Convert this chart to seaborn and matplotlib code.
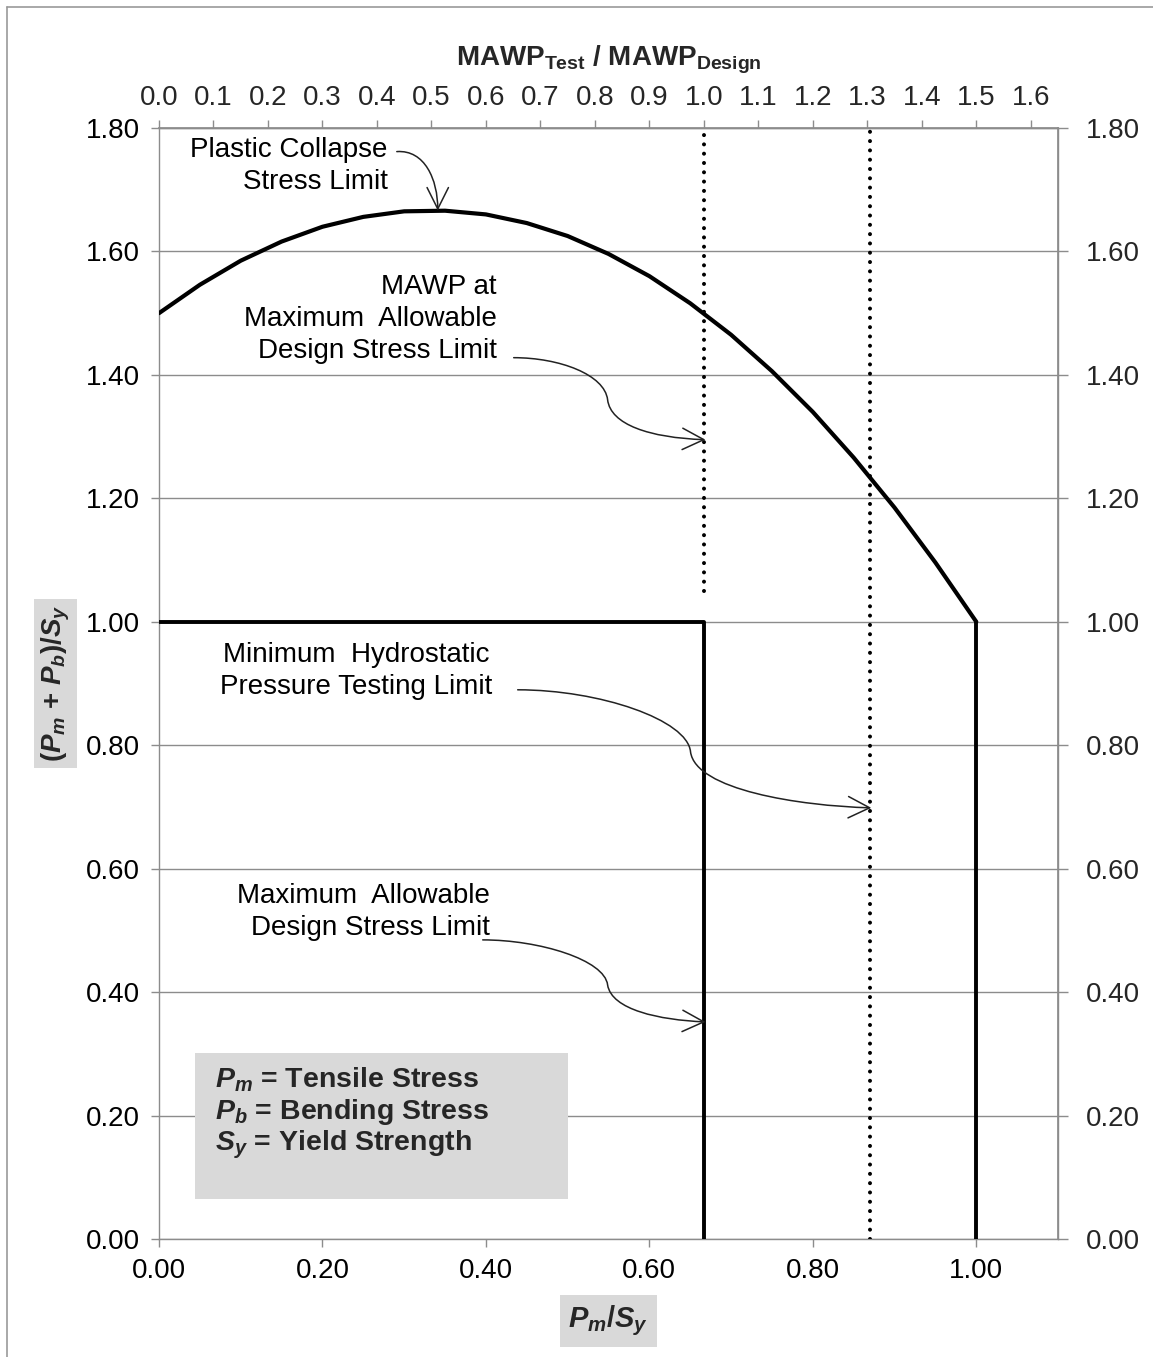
import numpy as np
import pandas as pd
import seaborn as sns
import matplotlib
matplotlib.use("Agg")
import matplotlib.pyplot as plt
from matplotlib.path import Path
from matplotlib.patches import FancyArrowPatch, Rectangle
from matplotlib.lines import Line2D

# ---------------- data ----------------
collapse_x = [0.0, 0.05, 0.1, 0.15, 0.2, 0.25, 0.3, 0.35, 0.4, 0.45, 0.5,
              0.55, 0.6, 0.65, 0.7, 0.75, 0.8, 0.85, 0.9, 0.95, 1.0]
collapse_y = [1.500, 1.546, 1.585, 1.616, 1.640, 1.656, 1.665, 1.666, 1.660, 1.646, 1.625,
              1.596, 1.560, 1.516, 1.465, 1.406, 1.340, 1.266, 1.185, 1.096, 1.000]
design_x = [0.0, 0.667, 0.667]
design_y = [1.0, 1.0, 0.0]
yield_x = [1.0, 1.0]
yield_y = [1.0, 0.0]
mawp_design_x = [0.667, 0.667]
mawp_design_y = [1.05, 1.80]
hydro_x = [0.87, 0.87]
hydro_y = [0.0, 1.80]

y_ticks = [0.0, 0.2, 0.4, 0.6, 0.8, 1.0, 1.2, 1.4, 1.6, 1.8]
x_ticks = [0.0, 0.2, 0.4, 0.6, 0.8, 1.0]
top_ticks = [0.0, 0.1, 0.2, 0.3, 0.4, 0.5, 0.6, 0.7, 0.8, 0.9, 1.0, 1.1, 1.2, 1.3, 1.4, 1.5, 1.6]
ratio_test_design = 1.5

# ---------------- style ----------------
sns.set_theme(style="white")
plt.rcParams["font.family"] = ["Liberation Sans", "DejaVu Sans"]
plt.rcParams["mathtext.fontset"] = "custom"
plt.rcParams["mathtext.rm"] = "Liberation Sans:bold"
plt.rcParams["mathtext.it"] = "Liberation Sans:italic:bold"
plt.rcParams["mathtext.bf"] = "Liberation Sans:bold"

W, H = 1153, 1357
fig = plt.figure(figsize=(W / 100, H / 100), dpi=100)
L, R, T, B = 159, 1058, 128, 1239
ax = fig.add_axes([L / W, 1 - B / H, (R - L) / W, (B - T) / H])

GRAY = "#8c8c8c"
FS = 20

# curves
sns.lineplot(x=collapse_x, y=collapse_y, sort=False, estimator=None, color="black", lw=3.0, ax=ax, zorder=5)
sns.lineplot(x=design_x, y=design_y, sort=False, estimator=None, color="black", lw=2.8, ax=ax, zorder=5)
sns.lineplot(x=yield_x, y=yield_y, sort=False, estimator=None, color="black", lw=2.8, ax=ax, zorder=5)
for xs, ys in [(mawp_design_x, mawp_design_y), (hydro_x, hydro_y)]:
    sns.lineplot(x=xs, y=ys, sort=False, estimator=None, color="black", ax=ax, zorder=4)
    line = ax.lines[-1]
    line.set_linewidth(2.9)
    line.set_dashes((0.01, 2.3))
    line.set_dash_capstyle("round")

ax.set_xlim(0, 1.1)
ax.set_ylim(0, 1.8)
ax.set_xticks(x_ticks)
ax.set_xticklabels([f"{v:.2f}" for v in x_ticks])
ax.set_yticks(y_ticks)
ax.set_yticklabels([f"{v:.2f}" for v in y_ticks])
ax.yaxis.grid(True, color=GRAY, lw=1.0, zorder=0)
ax.xaxis.grid(False)
ax.set_axisbelow(True)
for s in ax.spines.values():
    s.set_color(GRAY)
    s.set_linewidth(1.0)
    s.set_visible(True)
ax.tick_params(axis="both", which="major", direction="out", length=6, width=1,
               color=GRAY, labelsize=FS, labelcolor="black")
ax.tick_params(axis="x", pad=8, bottom=True)
ax.tick_params(axis="y", pad=8, left=True)

# right axis
ay2 = ax.secondary_yaxis("right")
ay2.set_yticks(y_ticks)
ay2.set_yticklabels([f"{v:.2f}" for v in y_ticks])
ay2.tick_params(direction="out", length=7, width=1, color=GRAY, labelsize=FS, pad=13)
ay2.spines["right"].set_color(GRAY)

# top axis
ax2 = ax.secondary_xaxis("top", functions=(lambda x: x * ratio_test_design,
                                           lambda x: x / ratio_test_design))
ax2.set_xticks(top_ticks)
ax2.set_xticklabels([f"{v:.1f}" for v in top_ticks])
ax2.tick_params(direction="out", length=6, width=1, color=GRAY, labelsize=FS, pad=6)
ax2.spines["top"].set_color(GRAY)
ax2.set_xlabel(r"MAWP$_{\mathrm{Test}}$ / MAWP$_{\mathrm{Design}}$", fontsize=FS,
               fontweight="bold", labelpad=14)

# axis labels
ax.set_xlabel(r"$P_m$/$S_y$", fontsize=FS + 1, fontweight="bold", labelpad=14,
              bbox=dict(facecolor="#d9d9d9", edgecolor="none", pad=6))
ax.set_ylabel(r"($P_m$ + $P_b$)/$S_y$", fontsize=FS, fontweight="bold", labelpad=10,
              bbox=dict(facecolor="#d9d9d9", edgecolor="none", pad=4))


def px(xp, yp):
    return ((xp - L) / 818.0, (B - yp) / 617.0)


# annotation texts
tk = dict(fontsize=FS, color="black", zorder=6)
ax.text(*px(388, 166), "Plastic Collapse\nStress Limit", ha="right", va="center",
        multialignment="right", linespacing=1.3, **tk)
ax.text(*px(497, 319), "MAWP at\nMaximum  Allowable\nDesign Stress Limit", ha="right",
        va="center", multialignment="right", linespacing=1.3, **tk)
ax.text(*px(356, 671), "Minimum  Hydrostatic\nPressure Testing Limit", ha="center",
        va="center", multialignment="center", linespacing=1.3, **tk)
ax.text(*px(490, 912), "Maximum  Allowable\nDesign Stress Limit", ha="right",
        va="center", multialignment="right", linespacing=1.3, **tk)


def curly(points):
    verts = [px(*p) for p in points]
    codes = [Path.MOVETO] + [Path.CURVE4] * (len(verts) - 1)
    arr = FancyArrowPatch(path=Path(verts, codes), arrowstyle="->,head_length=0.7,head_width=0.35",
                          mutation_scale=22, lw=1.1, color="#222222", transform=ax.transData,
                          zorder=7)
    ax.add_patch(arr)


curly([(397, 152), (425, 150), (438, 180), (438, 211)])
curly([(514, 358), (560, 358), (605, 375), (608, 400),
       (611, 425), (650, 438), (706, 440)])
curly([(518, 690), (600, 690), (688, 720), (691, 752),
       (696, 790), (800, 806), (872, 808)])
curly([(483, 940), (540, 940), (605, 960), (608, 985),
       (612, 1010), (660, 1020), (706, 1022)])

# key box
x0, y0 = px(195, 1199)
x1, y1 = px(568, 1053)
ax.add_patch(Rectangle((x0, y0), x1 - x0, y1 - y0, facecolor="#d9d9d9", edgecolor="none", zorder=2))
kt = dict(fontsize=FS + 0.5, fontweight="bold", ha="left", va="center", zorder=3)
ax.text(*px(215, 1080), r"$P_m$ = Tensile Stress", **kt)
ax.text(*px(215, 1112), r"$P_b$ = Bending Stress", **kt)
ax.text(*px(215, 1145), r"$S_y$ = Yield Strength", **kt)

# outer frame (left and top)
fig.add_artist(Line2D([7 / W, 7 / W], [0, 1 - 7 / H], color="#999999", lw=1.2))
fig.add_artist(Line2D([7 / W, 1], [1 - 7 / H, 1 - 7 / H], color="#999999", lw=1.2))

fig.savefig("out.png", dpi=100)
